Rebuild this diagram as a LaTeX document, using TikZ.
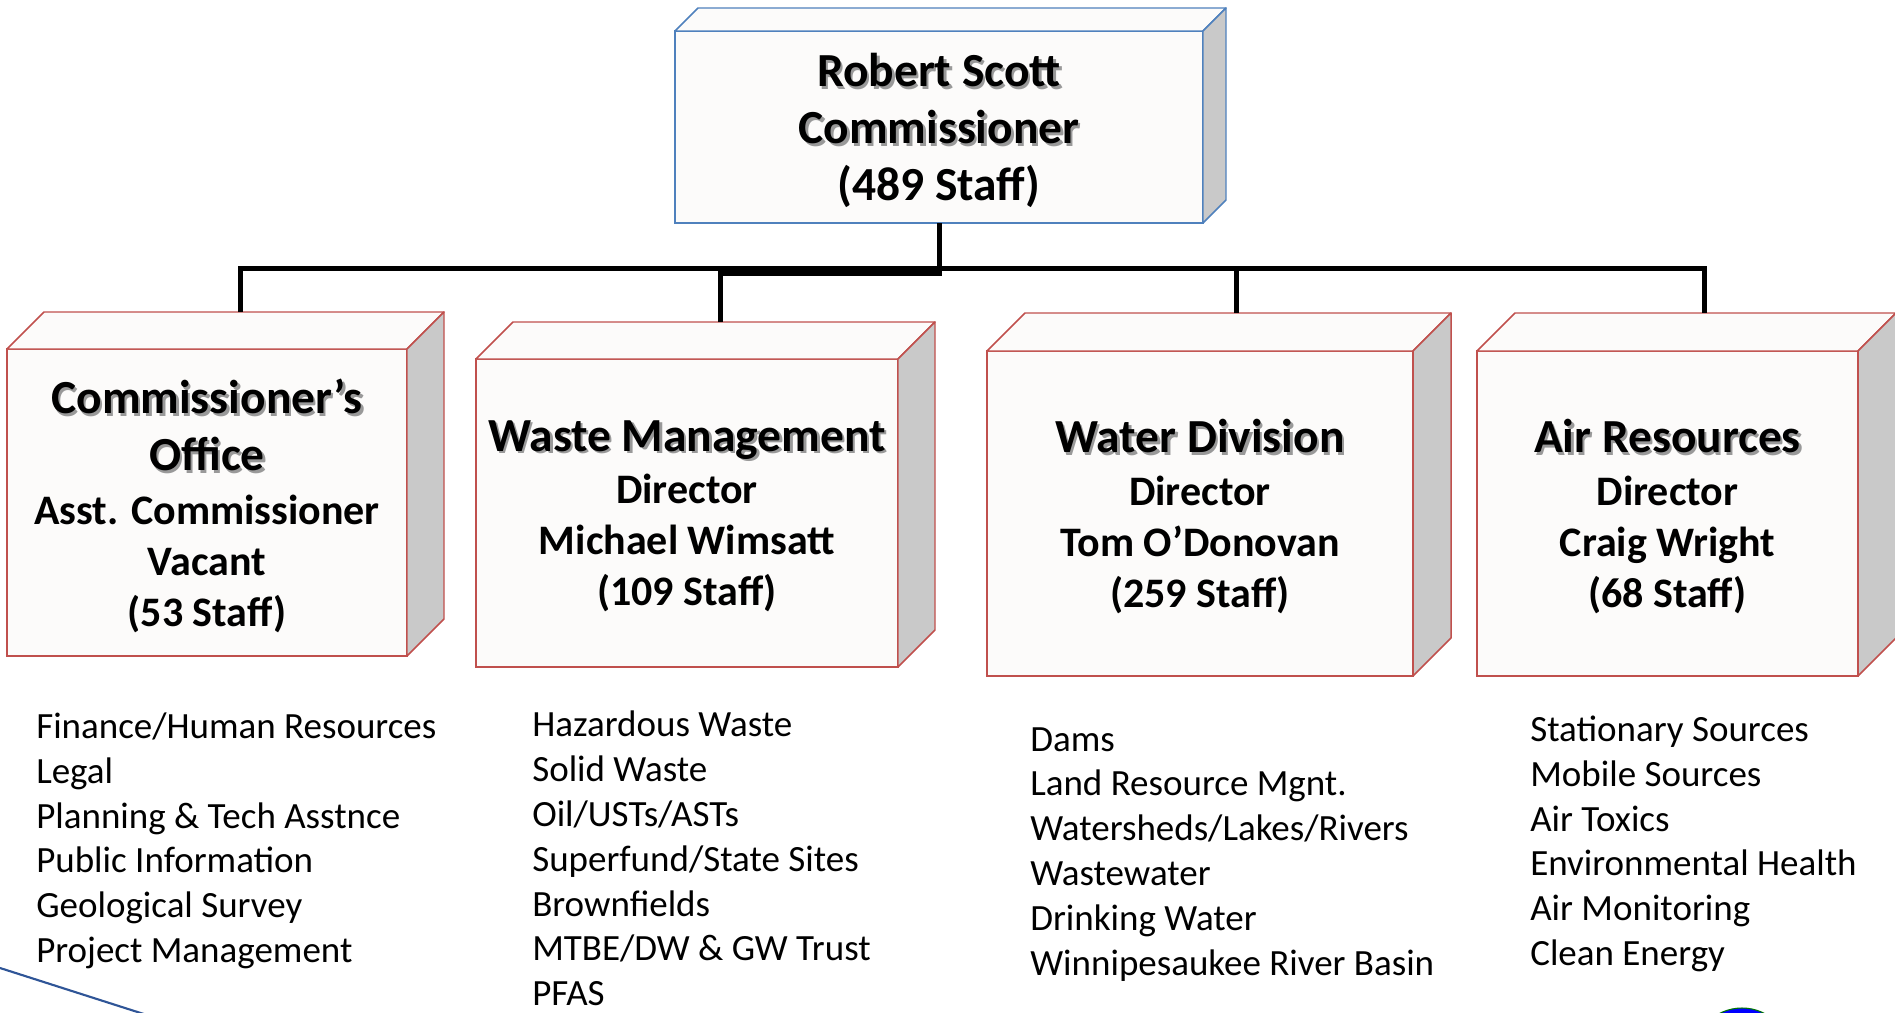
\documentclass[tikz,border=0pt]{standalone}
\usepackage{fontspec}
\setmainfont{Carlito}
\usetikzlibrary{calc}

\definecolor{boxred}{RGB}{192,80,77}
\definecolor{boxblue}{RGB}{79,129,189}
\definecolor{facefill}{RGB}{252,251,250}
\definecolor{sidefill}{RGB}{201,201,201}
\definecolor{edgeblue}{RGB}{47,85,151}
\definecolor{logogreen}{RGB}{0,120,0}

\newcommand{\ttlfont}{\fontsize{35.6pt}{42.75pt}\selectfont\bfseries}
\newcommand{\subfont}{\fontsize{31.5pt}{38.25pt}\selectfont\bfseries}
\newcommand{\listfont}{\fontsize{27.75pt}{33.6pt}\selectfont}
\newcommand{\shd}[1]{\leavevmode\rlap{\kern1.8pt\raisebox{-2pt}{\textcolor{black!40}{#1}}}#1}

\tikzset{
  front/.style={draw=boxred, line width=1.1pt, fill=facefill, inner sep=0pt, outer sep=0pt, align=center, font=\subfont, text depth=-2pt},
  branch/.style={line width=3.75pt},
  duties/.style={anchor=north west, inner sep=0pt, align=left, font=\listfont, execute at begin node=\strut},
}

\begin{document}
\begin{tikzpicture}[x=0.75pt,y=0.75pt,yscale=-1,xscale=1]
\useasboundingbox (0,0) rectangle (1895,1013);
\clip (0,0) rectangle (1895,1013);

% Box Nodes
\node [front, draw=boxblue, font=\ttlfont, text depth=0pt, minimum width=396pt, minimum height=144pt] (top) at (939,127) {\shd{Robert Scott}\\\shd{Commissioner}\\(489 Staff)};
\node [front, text depth=0pt, minimum width=300pt, minimum height=230.25pt] (comm) at (207,502.5) {{\ttlfont\shd{Commissioner’s}}\\[4.5pt]{\ttlfont\shd{Office}}\\[2pt]Asst. Commissioner\\Vacant\\(53 Staff)};
\node [front, minimum width=316.5pt, minimum height=231pt] (waste) at (687,513) {{\ttlfont\shd{Waste Management}}\\[1.2pt]Director\\Michael Wimsatt\\(109 Staff)};
\node [front, minimum width=319.5pt, minimum height=243.75pt] (water) at (1200,513.5) {{\ttlfont\shd{Water Division}}\\[1.2pt]Director\\Tom O’Donovan\\(259 Staff)};
\node [front, minimum width=285.75pt, minimum height=243.75pt] (air) at (1667.5,513.5) {{\ttlfont\shd{Air Resources}}\\[1.2pt]Director\\Craig Wright\\(68 Staff)};

% Top and side faces
\foreach \n/\dep/\col in {top/23/boxblue, comm/37/boxred, waste/37/boxred, water/38/boxred, air/38/boxred} {
  \draw [draw=\col, fill=facefill, line width=1.1pt, line join=round] (\n.north west) -- ++(\dep,-\dep) -- ($(\n.north east)+(\dep,-\dep)$) -- (\n.north east) -- cycle;
  \draw [draw=\col, fill=sidefill, line width=1.1pt, line join=round] (\n.north east) -- ++(\dep,-\dep) -- ($(\n.south east)+(\dep,-\dep)$) -- (\n.south east) -- cycle;
}

% Connector ends
\path (top.south) ++(0,45) coordinate (hub);
\path (comm.north) ++(33,-37) coordinate (comm-b);
\path (waste.north) ++(33,-37) coordinate (waste-b);
\path (water.north) ++(36,-38) coordinate (water-b);
\path (air.north) ++(36.5,-38) coordinate (air-b);

%Straight Lines
\draw [branch] (top.south) -- (hub);
\draw [branch] (comm-b) |- (hub) -| (air-b);
\draw [branch] (water-b) -- (water-b |- hub);
\draw [branch] (waste-b) |- ($(hub)+(3,5.5)$);

% Text Node
\node [duties] (commlist) at (36,712.6) {Finance/Human Resources\\Legal\\Planning \& Tech Asstnce\\Public Information\\Geological Survey\\Project Management};
% Text Node
\node [duties] (wastelist) at (532,711) {Hazardous Waste\\Solid Waste\\Oil/USTs/ASTs\\Superfund/State Sites\\Brownfields\\MTBE/DW \& GW Trust\\PFAS};
% Text Node
\node [duties] (waterlist) at (1030,727) {Dams\\Land Resource Mgnt.\\Watersheds/Lakes/Rivers\\Wastewater\\Drinking Water\\Winnipesaukee River Basin};
% Text Node
\node [duties] (airlist) at (1530,715.6) {Stationary Sources\\Mobile Sources\\Air Toxics\\Environmental Health\\Air Monitoring\\Clean Energy};

% Slide decorations
\draw [edgeblue, line width=1.6pt] (0,968) -- (200,1032);
\draw [logogreen, fill=blue, line width=0.8pt] (1742,1057) circle [radius=49];

\end{tikzpicture}
\end{document}
